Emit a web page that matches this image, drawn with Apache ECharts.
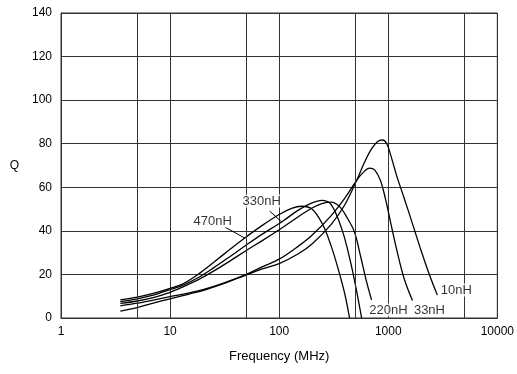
<!DOCTYPE html>
<html>
<head>
<meta charset="utf-8">
<script src="https://cdn.jsdelivr.net/npm/echarts@6/dist/echarts.min.js"></script>
<style>html,body{margin:0;padding:0;background:#fff}#c{width:517px;height:374px}</style>
</head>
<body>
<div id="c"></div>
<script>
// ---- data (frequency in MHz, Q) ----
const f470 = [3.5, 5, 7, 10, 13, 18, 25, 35, 48.3, 70, 100, 130, 160, 200, 250, 300, 350, 400, 442];
const q470 = [8.3, 9.6, 11.3, 13.6, 15.6, 20, 25.5, 31.3, 36.7, 42.5, 47.5, 50.3, 51.3, 50, 43, 33, 22, 11, 0];

const f330 = [3.5, 5, 7, 10, 13, 18, 25, 35, 50, 70, 105.4, 150, 200, 245, 300, 380, 450, 510, 570];
const q330 = [7.5, 8.8, 10.5, 13, 15, 18.5, 23, 28, 33.5, 38.5, 44.1, 49.5, 52.8, 54, 52, 40, 26, 13, 0];

const f220 = [3.5, 5, 7, 10, 13, 18, 25, 35, 50, 70, 100, 150, 200, 250, 300, 360, 420, 490, 560, 630, 703];
const q220 = [6.7, 7.8, 9.4, 11.8, 14.2, 17.5, 21.5, 26, 31, 35.5, 40.5, 46.5, 50.5, 52.6, 53.2, 51, 46, 39.5, 28, 17, 8.3];

const f33 = [3.5, 5, 7, 10, 15, 20, 30, 50, 70, 100, 150, 200, 300, 400, 515, 600, 673, 750, 850, 950, 1050, 1200, 1400, 1667];
const q33 = [5.6, 6.8, 8.2, 9.8, 11.5, 13, 15.8, 20, 23.5, 27, 33, 38, 47, 55, 63.3, 67.2, 68.8, 68, 63, 54, 44, 31, 18, 8];

const f10 = [3.5, 5, 7, 10, 15, 20, 30, 50, 70, 100, 150, 200, 300, 400, 515, 600, 700, 800, 886, 970, 1050, 1200, 1400, 1650, 2000, 2400, 2820];
const q10 = [3.2, 4.8, 6.8, 8.8, 11, 12.6, 15.5, 19.8, 22.5, 25, 29.5, 34, 43, 52, 63.3, 71, 77.5, 81, 81.7, 80, 75, 65, 55, 44, 31, 19.5, 10.5];

const seriesNames = ['470nH', '330nH', '220nH', '33nH', '10nH'];
const seriesFreqs = [f470, f330, f220, f33, f10];
const seriesQs = [q470, q330, q220, q33, q10];

// label anchor points (frequency, Q) for each series tag
const labelFreqs = [24.6, 69.2, 1005, 2387, 4217];
const labelQs = [44.5, 53.7, 3.7, 3.7, 12.8];

// leader lines: [fromFreq, fromQ, toFreq, toQ]
const leader470 = [31.7, 41.8, 48.3, 36.7];
const leader330 = [81.8, 49.1, 105.4, 44.1];

const xTicks = [1, 10, 100, 1000, 10000];
const minorGridFreqs = [5, 50, 500, 5000];
const yTicks = [0, 20, 40, 60, 80, 100, 120, 140];

const FONT = "'Liberation Sans', Arial, Helvetica, sans-serif";
const GRID = '#333';

const chart = echarts.init(document.getElementById('c'), null, {renderer: 'canvas'});

const series = seriesNames.map((name, i) => ({
  name: name,
  type: 'line',
  smooth: 0.35,
  symbol: 'none',
  silent: true,
  z: 3,
  lineStyle: {color: '#000', width: 1.3},
  data: seriesFreqs[i].map((f, k) => [f, seriesQs[i][k]])
}));

// vertical grid lines at 5, 50, 500, 5000
series.push({
  type: 'line',
  data: [],
  silent: true,
  markLine: {
    silent: true,
    symbol: 'none',
    label: {show: false},
    lineStyle: {color: GRID, width: 1, type: 'solid'},
    data: minorGridFreqs.map(v => ({xAxis: v}))
  }
});

// leader lines
series.push({
  type: 'line',
  data: [],
  silent: true,
  markLine: {
    silent: true,
    symbol: 'none',
    label: {show: false},
    lineStyle: {color: '#000', width: 1, type: 'solid'},
    data: [leader470, leader330].map(l => [{coord: [l[0], l[1]]}, {coord: [l[2], l[3]]}])
  }
});

// text tags
series.push({
  type: 'scatter',
  silent: true,
  symbolSize: 0,
  z: 5,
  data: seriesNames.map((n, i) => ({name: n, value: [labelFreqs[i], labelQs[i]]})),
  label: {
    show: true,
    position: 'inside',
    formatter: p => p.name,
    color: '#000',
    fontFamily: FONT,
    fontSize: 13,
    backgroundColor: '#fff',
    padding: [0, 1]
  }
});

chart.setOption({
  animation: false,
  backgroundColor: '#fff',
  grid: {left: 61, right: 19, top: 13, bottom: 56, show: true, borderColor: GRID, borderWidth: 1},
  xAxis: {
    type: 'log',
    logBase: 10,
    min: xTicks[0],
    max: xTicks[xTicks.length - 1],
    name: 'Frequency (MHz)',
    nameLocation: 'middle',
    nameGap: 32,
    nameTextStyle: {color: '#000', fontFamily: FONT, fontSize: 13},
    axisLine: {lineStyle: {color: GRID}},
    axisTick: {show: false},
    axisLabel: {color: '#000', fontFamily: FONT, fontSize: 12, margin: 8,
      formatter: v => String(Math.round(v))},
    splitLine: {show: true, lineStyle: {color: GRID, width: 1}}
  },
  yAxis: {
    type: 'value',
    min: yTicks[0],
    max: yTicks[yTicks.length - 1],
    interval: 20,
    name: 'Q',
    nameLocation: 'middle',
    nameRotate: 0,
    nameGap: 42,
    nameTextStyle: {color: '#000', fontFamily: FONT, fontSize: 12},
    axisLine: {show: true, lineStyle: {color: GRID}},
    axisTick: {show: false},
    axisLabel: {color: '#000', fontFamily: FONT, fontSize: 12, margin: 9},
    splitLine: {show: true, lineStyle: {color: GRID, width: 1}}
  },
  series: series
});
</script>
</body>
</html>
